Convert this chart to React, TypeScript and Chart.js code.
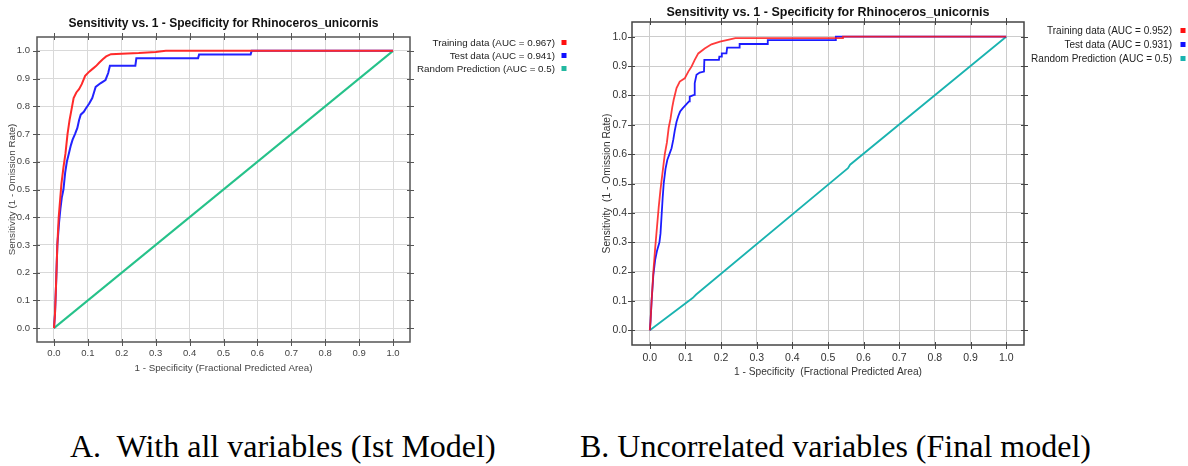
import React, { useEffect, useRef } from "react";
import { Chart, registerables } from "chart.js";

Chart.register(...registerables);

type P = [number, number];

// ---------- data ----------
const tickValues = [0, 0.1, 0.2, 0.3, 0.4, 0.5, 0.6, 0.7, 0.8, 0.9, 1.0];
const chartTitle = "Sensitivity vs. 1 - Specificity for Rhinoceros_unicornis";
const xTitleA = "1 - Specificity (Fractional Predicted Area)";
const xTitleB = "1 - Specificity  (Fractional Predicted Area)";
const yTitleA = "Sensitivity (1 - Omission Rate)";
const yTitleB = "Sensitivity  (1 - Omission Rate)";
const seriesNamesA = ["Training data (AUC = 0.967)", "Test data (AUC = 0.941)", "Random Prediction (AUC = 0.5)"];
const seriesNamesB = ["Training data (AUC = 0.952)", "Test data (AUC = 0.931)", "Random Prediction (AUC = 0.5)"];
const captionA = "A.  With all variables (Ist Model)";
const captionB = "B. Uncorrelated variables (Final model)";

const trainA: P[] = [
  [0, 0], [0.003, 0.05], [0.006, 0.15], [0.01, 0.3], [0.014, 0.4], [0.018, 0.46], [0.022, 0.52],
  [0.028, 0.58], [0.034, 0.63], [0.04, 0.7], [0.046, 0.75], [0.052, 0.79], [0.058, 0.83],
  [0.066, 0.85], [0.074, 0.862], [0.082, 0.88], [0.092, 0.91], [0.104, 0.925], [0.114, 0.935],
  [0.124, 0.945], [0.134, 0.958], [0.144, 0.97], [0.154, 0.98], [0.168, 0.988], [0.2, 0.99],
  [0.25, 0.992], [0.3, 0.996], [0.33, 1.0], [1, 1],
];
const testA: P[] = [
  [0, 0], [0.003, 0.05], [0.006, 0.15], [0.01, 0.3], [0.015, 0.38], [0.019, 0.43], [0.023, 0.47],
  [0.028, 0.5], [0.033, 0.56], [0.038, 0.6], [0.044, 0.63], [0.05, 0.66], [0.055, 0.68],
  [0.062, 0.7], [0.069, 0.722], [0.074, 0.75], [0.079, 0.77], [0.088, 0.78], [0.094, 0.792],
  [0.104, 0.81], [0.113, 0.83], [0.118, 0.85], [0.123, 0.87], [0.137, 0.883], [0.152, 0.895],
  [0.16, 0.92], [0.165, 0.946], [0.24, 0.946], [0.243, 0.973], [0.425, 0.973], [0.428, 0.987],
  [0.58, 0.987], [0.583, 1], [1, 1],
];
const randomA: P[] = [[0, 0], [1, 1]];

const trainB: P[] = [
  [0, 0], [0.002, 0.03], [0.005, 0.1], [0.01, 0.2], [0.015, 0.28], [0.02, 0.35], [0.025, 0.42],
  [0.03, 0.48], [0.035, 0.53], [0.042, 0.6], [0.048, 0.64], [0.053, 0.69], [0.058, 0.72],
  [0.063, 0.76], [0.067, 0.785], [0.075, 0.825], [0.084, 0.847], [0.098, 0.858], [0.108, 0.881],
  [0.117, 0.898], [0.126, 0.921], [0.136, 0.943], [0.154, 0.96], [0.173, 0.974], [0.197, 0.983],
  [0.225, 0.991], [0.24, 0.995], [0.54, 0.995], [0.542, 1], [1, 1],
];
const testB: P[] = [
  [0, 0], [0.002, 0.03], [0.005, 0.1], [0.01, 0.19], [0.015, 0.24], [0.02, 0.27], [0.027, 0.3],
  [0.03, 0.33], [0.033, 0.39], [0.036, 0.45], [0.039, 0.5], [0.044, 0.55], [0.049, 0.58],
  [0.055, 0.6], [0.061, 0.62], [0.066, 0.65], [0.07, 0.68], [0.075, 0.71], [0.08, 0.73],
  [0.085, 0.745], [0.092, 0.756], [0.101, 0.768], [0.11, 0.78], [0.112, 0.796], [0.124, 0.802],
  [0.126, 0.842], [0.131, 0.87], [0.14, 0.878], [0.152, 0.881], [0.153, 0.921], [0.194, 0.921],
  [0.195, 0.932], [0.201, 0.932], [0.202, 0.943], [0.215, 0.943], [0.217, 0.963], [0.251, 0.963],
  [0.252, 0.975], [0.33, 0.975], [0.331, 0.988], [0.52, 0.988], [0.522, 1], [1, 1],
];
const randomB: P[] = [[0, 0], [0.12, 0.11], [0.13, 0.122], [0.556, 0.552], [0.562, 0.564], [1, 1]];

// ---------- drawing helpers ----------
const SANS = "'Liberation Sans', Arial, sans-serif";

const decoPlugin = {
  id: "deco",
  afterDraw(chart: any, _args: any, o: any) {
    const { ctx, chartArea: a, scales } = chart;
    ctx.save();
    // frame
    ctx.strokeStyle = o.frameColor;
    ctx.lineWidth = o.frameWidth;
    ctx.strokeRect(a.left, a.top, a.right - a.left, a.bottom - a.top);
    // tick marks on all four sides
    ctx.lineWidth = 1;
    ctx.beginPath();
    for (const v of tickValues) {
      const x = Math.round(scales.x.getPixelForValue(v)) + 0.5;
      ctx.moveTo(x, a.bottom + 4); ctx.lineTo(x, a.bottom - 3);
      ctx.moveTo(x, a.top - 4); ctx.lineTo(x, a.top + 3);
      const y = Math.round(scales.y.getPixelForValue(v)) + 0.5;
      ctx.moveTo(a.left - 4, y); ctx.lineTo(a.left + 3, y);
      ctx.moveTo(a.right + 4, y); ctx.lineTo(a.right - 3, y);
    }
    ctx.stroke();
    // title
    ctx.fillStyle = "#111";
    ctx.font = `bold ${o.titleSize}px ${SANS}`;
    ctx.textAlign = "center";
    ctx.textBaseline = "middle";
    ctx.fillText(o.title, (a.left + a.right) / 2 + o.titleDx, o.titleY);
    // legend (text then marker)
    ctx.font = `${o.legendSize}px ${SANS}`;
    ctx.textAlign = "right";
    chart.data.datasets.forEach((ds: any, i: number) => {
      const y = o.legendY + i * o.legendGap;
      ctx.fillStyle = "#222";
      ctx.fillText(ds.label, o.legendX, y);
      ctx.fillStyle = o.markerColors[i];
      ctx.fillRect(o.markerX - 2.5, y - 3, 5, 5);
    });
    ctx.restore();
  },
};

type Cfg = {
  left: number; width: number; height: number;
  padRight: number; padTop: number; yAxisW: number; xAxisH: number;
  names: string[]; series: P[][]; colors: string[]; markerColors: string[]; widths: number[];
  xTitle: string; yTitle: string; tickSize: number; axisTitleSize: number;
  xTickPad: number; yTickPad: number; xTitlePad: number; yTitlePad: number;
  titleY: number; titleSize: number; titleDx: number;
  legendX: number; markerX: number; legendY: number; legendGap: number; legendSize: number;
  gridColor: string; frameColor: string; tickColor: string;
};

function makeConfig(c: Cfg): any {
  const tickCb = (v: any) => Number(v).toFixed(1);
  const setTicks = (s: any) => { s.ticks = tickValues.map((v) => ({ value: v })); };
  return {
    type: "scatter",
    data: {
      datasets: c.series.map((d, i) => ({
        label: c.names[i],
        data: d.map(([x, y]) => ({ x, y })),
        showLine: true,
        borderColor: c.colors[i],
        backgroundColor: c.colors[i],
        borderWidth: c.widths[i],
        pointRadius: 0,
        tension: 0,
      })),
    },
    options: {
      animation: false,
      responsive: false,
      devicePixelRatio: 1,
      layout: { padding: { left: 0, right: c.padRight, top: c.padTop, bottom: 0 } },
      plugins: {
        legend: { display: false },
        title: { display: false },
        tooltip: { enabled: false },
        deco: {
          title: chartTitle, titleY: c.titleY, titleSize: c.titleSize, titleDx: c.titleDx,
          legendX: c.legendX, markerX: c.markerX, legendY: c.legendY, legendGap: c.legendGap,
          legendSize: c.legendSize, markerColors: c.markerColors,
          frameColor: c.frameColor, frameWidth: 1.5,
        },
      },
      scales: {
        x: {
          type: "linear", min: -0.05, max: 1.05,
          afterBuildTicks: setTicks,
          afterFit: (s: any) => { s.height = c.xAxisH; },
          grid: { color: c.gridColor, lineWidth: 1, drawTicks: false },
          border: { display: false },
          ticks: { callback: tickCb, autoSkip: false, maxRotation: 0, padding: c.xTickPad, color: c.tickColor, font: { family: SANS, size: c.tickSize } },
          title: { display: true, text: c.xTitle, color: c.tickColor, font: { family: SANS, size: c.axisTitleSize }, padding: { top: 0, bottom: c.xTitlePad } },
        },
        y: {
          type: "linear", min: -0.05, max: 1.05,
          afterBuildTicks: setTicks,
          afterFit: (s: any) => { s.width = c.yAxisW; },
          grid: { color: c.gridColor, lineWidth: 1, drawTicks: false },
          border: { display: false },
          ticks: { callback: tickCb, autoSkip: false, padding: c.yTickPad, color: c.tickColor, font: { family: SANS, size: c.tickSize } },
          title: { display: true, text: c.yTitle, color: c.tickColor, font: { family: SANS, size: c.axisTitleSize }, padding: { top: c.yTitlePad, bottom: 0 } },
        },
      },
    },
    plugins: [decoPlugin],
  };
}

const cfgA: Cfg = {
  left: 0, width: 590, height: 390,
  padRight: 180, padTop: 37, yAxisW: 37, xAxisH: 48,
  names: seriesNamesA, series: [trainA, testA, randomA],
  colors: ["#ff2a2a", "#2323ff", "#26c28a"], markerColors: ["#ff1010", "#1010ff", "#22b8a0"], widths: [2, 2, 2],
  xTitle: xTitleA, yTitle: yTitleA, tickSize: 9.5, axisTitleSize: 9.8,
  xTickPad: 6, yTickPad: 7, xTitlePad: 16, yTitlePad: 6,
  titleY: 24, titleSize: 12, titleDx: 0,
  legendX: 555, markerX: 564, legendY: 43, legendGap: 13, legendSize: 9.8,
  gridColor: "#d9d9d9", frameColor: "#555", tickColor: "#444",
};

const cfgB: Cfg = {
  left: 590, width: 598, height: 390,
  padRight: 164, padTop: 22, yAxisW: 42, xAxisH: 45,
  names: seriesNamesB, series: [trainB, testB, randomB],
  colors: ["rgba(255,25,25,0.85)", "#1c1cff", "#1ab3b0"], markerColors: ["#ff1010", "#1010ff", "#19b3b0"], widths: [1.8, 1.8, 1.8],
  xTitle: xTitleB, yTitle: yTitleB, tickSize: 10.5, axisTitleSize: 10.2,
  xTickPad: 7, yTickPad: 5, xTitlePad: 12, yTitlePad: 11,
  titleY: 13, titleSize: 12.5, titleDx: 0,
  legendX: 582, markerX: 593, legendY: 31, legendGap: 14, legendSize: 10,
  gridColor: "#cccccc", frameColor: "#444", tickColor: "#333",
};

function RocChart({ c }: { c: Cfg }) {
  const ref = useRef<HTMLCanvasElement>(null);
  useEffect(() => {
    const chart = new Chart(ref.current as HTMLCanvasElement, makeConfig(c));
    return () => chart.destroy();
  }, [c]);
  return (
    <canvas
      ref={ref}
      width={c.width}
      height={c.height}
      style={{ position: "absolute", left: c.left, top: 0, width: c.width, height: c.height }}
    />
  );
}

const captionStyle: React.CSSProperties = {
  position: "absolute",
  top: 430,
  fontFamily: "'Liberation Serif', 'Times New Roman', serif",
  fontSize: 32,
  lineHeight: "32px",
  whiteSpace: "pre",
  color: "#000",
};

export default function App() {
  return (
    <div style={{ position: "absolute", left: 0, top: 0, width: 1188, height: 466, background: "#fff", overflow: "hidden" }}>
      <RocChart c={cfgA} />
      <RocChart c={cfgB} />
      <div style={{ ...captionStyle, left: 70 }}>{captionA}</div>
      <div style={{ ...captionStyle, left: 580 }}>{captionB}</div>
    </div>
  );
}
